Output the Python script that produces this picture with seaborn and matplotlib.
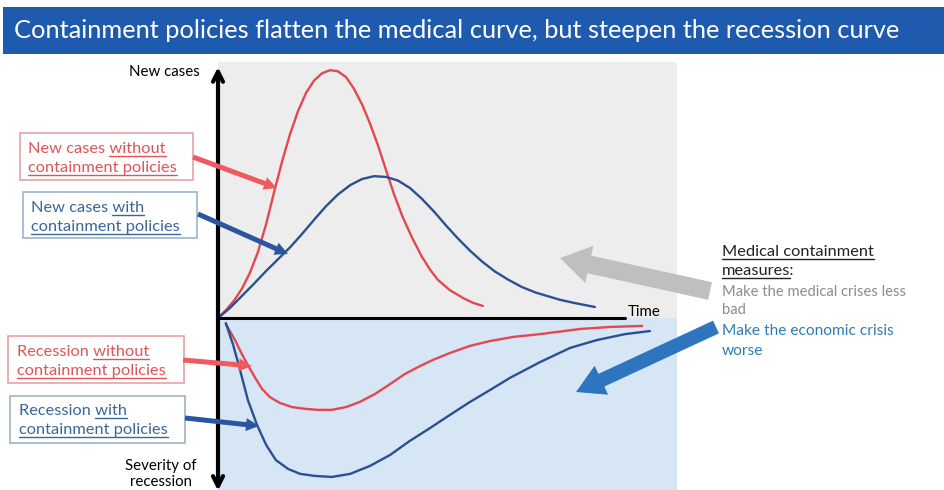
import pandas as pd
import seaborn as sns
import matplotlib.pyplot as plt
from matplotlib.patches import Rectangle, FancyArrow
from matplotlib.font_manager import FontProperties

# curves: time on a 0-100 scale, level above the axis = new cases,
# level below the axis = depth of the recession
cases_without_t = [0, 1.74, 3.49, 5.23, 6.97, 8.71, 10.46, 12.2, 13.94, 15.69, 17.43, 19.17, 20.91, 22.66,
                   24.4, 26.1, 27.9, 29.6, 31.4, 33.1, 34.9, 36.6, 38.3, 40.1, 42.3, 44.4, 46.2, 47.9,
                   50.5, 53.4, 55.6, 57.7]
cases_without_v = [0, 3.1, 6.8, 11.5, 17.7, 25.8, 36.5, 49.0, 61.0, 71.8, 80.8, 87.9, 92.7, 95.6,
                   96.8, 96.4, 94.1, 89.6, 83.4, 76.0, 67.2, 57.8, 48.6, 40.0, 31.3, 24.0, 18.9, 14.9,
                   10.9, 7.8, 5.9, 4.7]

cases_with_t = [0, 2.6, 5.2, 7.8, 10.5, 13.1, 15.7, 18.3, 20.9, 23.5, 26.1, 28.8, 31.4, 34.0, 36.6, 39.2,
                41.8, 44.4, 47.1, 49.7, 52.3, 54.9, 57.5, 60.3, 63.2, 66.2, 69.1, 71.7, 74.5, 77.8, 82.1]
cases_with_v = [0, 3.9, 8.6, 13.3, 18.4, 23.0, 27.6, 32.8, 38.3, 43.6, 48.2, 51.9, 54.3, 55.4, 55.1, 53.7,
                50.8, 46.6, 41.5, 36.1, 31.0, 26.3, 22.1, 18.2, 15.0, 12.1, 10.0, 8.6, 7.1, 5.8, 4.3]

recession_without_t = [1.7, 3.7, 5.2, 6.5, 8.1, 9.6, 11.3, 13.5, 16.1, 19.0, 21.8, 24.8, 27.9, 30.9, 34.2,
                       37.5, 40.7, 44.0, 46.8, 50.5, 54.9, 59.3, 64.3, 70.2, 78.9, 85.4, 92.4]
recession_without_v = [-2.3, -8.6, -14.1, -18.4, -23.4, -27.7, -30.9, -33.2, -34.8, -35.5, -35.9, -35.9, -34.8,
                       -32.8, -29.7, -25.8, -21.9, -18.8, -16.4, -13.7, -10.9, -9.0, -7.4, -6.3, -4.3, -3.5, -3.1]

recession_with_t = [1.7, 3.3, 4.8, 6.5, 8.5, 10.5, 12.6, 15.3, 17.9, 21.1, 24.8, 28.8, 33.1, 37.5, 41.8,
                    46.2, 50.5, 54.9, 59.3, 63.6, 70.2, 76.7, 82.6, 88.7, 94.1]
recession_with_v = [-2.0, -10.5, -20.3, -32.0, -41.8, -49.6, -55.5, -59.0, -60.9, -61.7, -62.1, -60.9, -57.8,
                    -53.5, -48.0, -43.0, -37.9, -32.8, -28.1, -23.4, -17.2, -11.7, -8.6, -6.3, -5.1]

RED = "#E5474F"
BLUE = "#2B4F93"

frames = []
for name, t, v in [("cases_without", cases_without_t, cases_without_v),
                   ("cases_with", cases_with_t, cases_with_v),
                   ("recession_without", recession_without_t, recession_without_v),
                   ("recession_with", recession_with_t, recession_with_v)]:
    frames.append(pd.DataFrame({"time": t, "level": v, "series": name}))
df = pd.concat(frames, ignore_index=True)
palette = {"cases_without": RED, "cases_with": BLUE, "recession_without": RED, "recession_with": BLUE}

sns.set_theme(style="white")
plt.rcParams["font.family"] = ["Lato", "DejaVu Sans"]

W, H = 945, 490
fig = plt.figure(figsize=(W / 100, H / 100), dpi=100)

# chart area: x 218..677 px, y 62..490 px
ax = fig.add_axes([218 / W, 0, (677 - 218) / W, (490 - 62) / H])
ax.set_xlim(0, 100)
ax.set_ylim(-67.2, 100)
ax.set_axis_off()
ax.axhspan(0, 100, color="#EDEDED", lw=0)
ax.axhspan(-67.2, 0, color="#D6E6F4", lw=0)
sns.lineplot(data=df, x="time", y="level", hue="series", palette=palette, estimator=None,
             sort=False, lw=1.7, legend=False, ax=ax)
ax.axhline(0, xmin=0, xmax=0.887, color="black", lw=2.2)
ax.annotate("", xy=(0, 98), xytext=(0, 0), annotation_clip=False,
            arrowprops=dict(arrowstyle="->", lw=3, color="black", mutation_scale=18, shrinkA=0, shrinkB=0))
ax.annotate("", xy=(0, -67.5), xytext=(0, 0), annotation_clip=False,
            arrowprops=dict(arrowstyle="->", lw=3, color="black", mutation_scale=18, shrinkA=0, shrinkB=0))

# overlay in pixel units for the slide decorations
ov = fig.add_axes([0, 0, 1, 1], zorder=5)
ov.set_xlim(0, W)
ov.set_ylim(H, 0)
ov.set_axis_off()

ov.add_patch(Rectangle((3, 7), W - 3, 47, color="#1E5AAE", lw=0))
ov.text(14, 31, "Containment policies flatten the medical curve, but steepen the recession curve",
        color="white", fontsize=18.3, va="center", ha="left")

renderer = fig.canvas.get_renderer()


def width(s, size):
    w, h, d = renderer.get_text_width_height_descent(s, FontProperties(family=["Lato"], size=size), ismath=False)
    return w


def line(x, y, s, color, size=11, under=None):
    ov.text(x, y, s, color=color, fontsize=size, va="baseline", ha="left")
    if under:
        a, b = under
        x1 = x + width(s[:b], size)
        x0 = x1 - width(s[a:b], size)
        ov.plot([x0, x1], [y + 3, y + 3], color=color, lw=1)


def box(x0, y0, x1, y1, edge):
    ov.add_patch(Rectangle((x0, y0), x1 - x0, y1 - y0, facecolor="white", edgecolor=edge, lw=1.2))


RTXT = "#DD5558"
BTXT = "#39679A"
BS = 11.8
box(20, 133, 193, 180, "#E6A3A3")
line(28, 153, "New cases without", RTXT, BS, under=(10, 17))
line(28, 172, "containment policies", RTXT, BS, under=(0, 20))
box(23, 192, 197, 238, "#9DB3CB")
line(31, 212, "New cases with", BTXT, BS, under=(10, 14))
line(31, 231, "containment policies", BTXT, BS, under=(0, 20))
box(8, 336, 184, 383, "#E6A3A3")
line(17, 356, "Recession without", RTXT, BS, under=(10, 17))
line(17, 375, "containment policies", RTXT, BS, under=(0, 20))
box(10, 396, 185, 443, "#9DB3CB")
line(19, 415, "Recession with", BTXT, BS, under=(10, 14))
line(19, 434, "containment policies", BTXT, BS, under=(0, 20))


def arrow(x0, y0, x1, y1, color, w, hw, hl):
    ov.add_patch(FancyArrow(x0, y0, x1 - x0, y1 - y0, width=w, head_width=hw, head_length=hl,
                            length_includes_head=True, color=color, lw=0))


arrow(193, 157, 277, 188, "#EE5A5F", 5, 13, 13)
arrow(198, 214, 288, 254, "#2A55A0", 5, 13, 13)
arrow(183, 360, 252, 366, "#EE5A5F", 5, 13, 13)
arrow(185, 418, 259, 426, "#2A55A0", 5, 13, 13)
arrow(710, 291, 560, 258, "#BFBFBF", 18, 38, 30)
arrow(716, 327, 576, 392, "#2E75C0", 14, 32, 28)

ov.text(200, 72, "New cases", fontsize=10.8, color="black", ha="right", va="center")
ov.text(628, 312, "Time", fontsize=10.8, color="black", ha="left", va="center")
ov.text(161, 466, "Severity of", fontsize=10.8, color="black", ha="center", va="center")
ov.text(161, 482, "recession", fontsize=10.8, color="black", ha="center", va="center")

line(722, 256, "Medical containment", "#222222", 11.8, under=(0, 19))
line(722, 275, "measures:", "#222222", 11.8, under=(0, 8))
line(722, 296, "Make the medical crises less", "#8C8C8C", 10.6)
line(722, 314, "bad", "#8C8C8C", 10.6)
line(722, 335, "Make the economic crisis", "#2E7DB5", 11.2)
line(722, 355, "worse", "#2E7DB5", 11.2)

fig.savefig("out.png", dpi=100)
